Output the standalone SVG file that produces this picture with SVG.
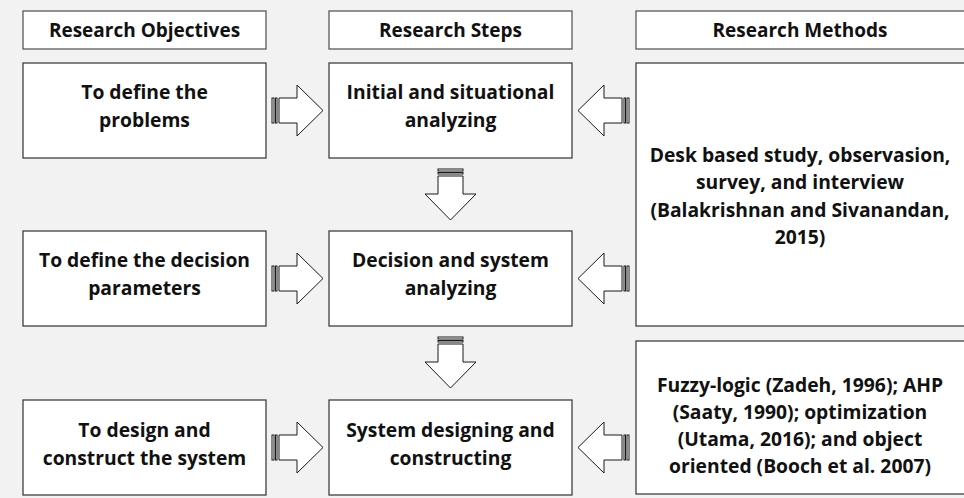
<svg xmlns="http://www.w3.org/2000/svg" width="964" height="498" viewBox="0 0 964 498">
<style>
.bg{fill:#f2f2f2}
.box{fill:#ffffff;stroke:#404040;stroke-width:1.3}
.hdr{fill:#ffffff;stroke:#595959;stroke-width:1.3}
.arr{fill:#ffffff;stroke:#1a1a1a;stroke-width:1}
text{font-family:"Open Sans","Noto Sans","Liberation Sans",sans-serif;font-weight:bold;fill:#111;text-anchor:middle}
.h{font-size:19px}
.t{font-size:19.3px}
</style>
<defs>
<g id="arrR">
<rect class="arr" x="0" y="-12.5" width="2" height="25"/>
<rect class="arr" x="3.5" y="-12.5" width="1.5" height="25"/>
<path class="arr" d="M7,-12.5 H25 V-25.5 L51,0 L25,25.5 V12.5 H7 Z"/>
</g>
</defs>
<rect class="bg" x="0" y="0" width="964" height="498"/>

<g id="hdr-objectives">
<rect class="hdr" x="23" y="11" width="243" height="38"/>
<text class="h" x="144.5" y="37">Research Objectives</text>
</g>
<g id="hdr-steps">
<rect class="hdr" x="329" y="11" width="243" height="38"/>
<text class="h" x="450.5" y="37">Research Steps</text>
</g>
<g id="hdr-methods">
<rect class="hdr" x="636" y="11" width="340" height="38"/>
<text class="h" x="800" y="37">Research Methods</text>
</g>

<g id="obj1">
<rect class="box" x="23" y="63" width="243" height="95"/>
<text class="t" x="144.5" y="99">To define the</text>
<text class="t" x="144.5" y="127">problems</text>
</g>
<g id="obj2">
<rect class="box" x="23" y="231" width="243" height="95"/>
<text class="t" x="144.5" y="267">To define the decision</text>
<text class="t" x="144.5" y="295">parameters</text>
</g>
<g id="obj3">
<rect class="box" x="23" y="400" width="243" height="95"/>
<text class="t" x="144.5" y="437">To design and</text>
<text class="t" x="144.5" y="465">construct the system</text>
</g>

<g id="step1">
<rect class="box" x="329" y="63" width="243" height="95"/>
<text class="t" x="450.5" y="99">Initial and situational</text>
<text class="t" x="450.5" y="127">analyzing</text>
</g>
<g id="step2">
<rect class="box" x="329" y="231" width="243" height="95"/>
<text class="t" x="450.5" y="267">Decision and system</text>
<text class="t" x="450.5" y="295">analyzing</text>
</g>
<g id="step3">
<rect class="box" x="329" y="400" width="243" height="95"/>
<text class="t" x="450.5" y="437">System designing and</text>
<text class="t" x="450.5" y="465">constructing</text>
</g>

<g id="method1">
<rect class="box" x="636" y="63" width="340" height="263"/>
<text class="t" x="800" y="161.5">Desk based study, observasion,</text>
<text class="t" x="800" y="189">survey, and interview</text>
<text class="t" x="800" y="216.5">(Balakrishnan and Sivanandan,</text>
<text class="t" x="800" y="244">2015)</text>
</g>
<g id="method2">
<rect class="box" x="636" y="341" width="340" height="153"/>
<text class="t" x="800" y="391.5">Fuzzy-logic (Zadeh, 1996); AHP</text>
<text class="t" x="800" y="418.5">(Saaty, 1990); optimization</text>
<text class="t" x="800" y="445.5">(Utama, 2016); and object</text>
<text class="t" x="800" y="472.5">oriented (Booch et al. 2007)</text>
</g>

<g id="connectors">
<use href="#arrR" transform="translate(272,110.5)"/>
<use href="#arrR" transform="translate(272,278.5)"/>
<use href="#arrR" transform="translate(272,447.5)"/>
<use href="#arrR" transform="translate(629,110.5) scale(-1,1)"/>
<use href="#arrR" transform="translate(629,278.5) scale(-1,1)"/>
<use href="#arrR" transform="translate(629,447.5) scale(-1,1)"/>
<use href="#arrR" transform="translate(450.5,169) rotate(90)"/>
<use href="#arrR" transform="translate(450.5,337) rotate(90)"/>
</g>
</svg>
